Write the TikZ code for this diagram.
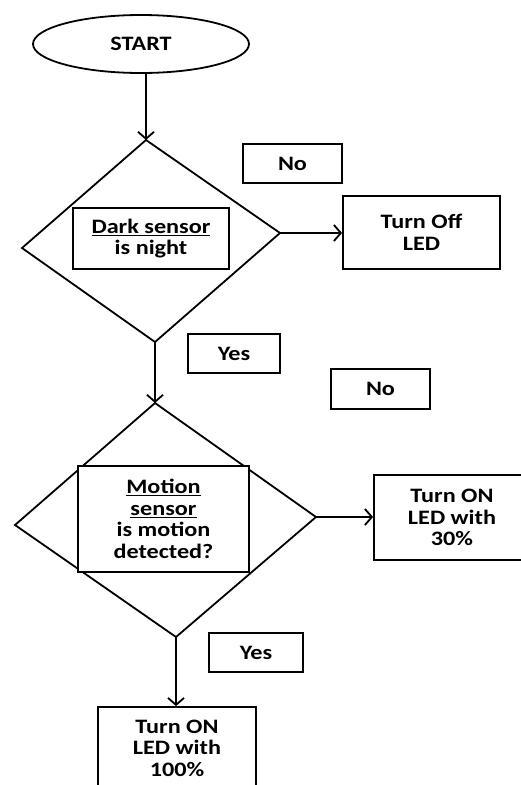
\documentclass[tikz,border=0pt]{standalone}
\usepackage{fontspec}
\setmainfont{Carlito}[FakeStretch=1.18]
\usetikzlibrary{shapes.geometric,arrows.meta}
\begin{document}
\begin{tikzpicture}[x=1pt,y=-1pt,
  every node/.style={font=\fontsize{20.5}{21.5}\selectfont\bfseries, align=center, inner sep=0pt},
  line/.style={line width=1.8pt},
  box/.style={draw, line width=1.8pt, rectangle},
  arr/.style={line width=1.8pt, -{Straight Barb[length=7pt,width=16pt,line width=1.8pt]}}]
\clip (0,0) rectangle (521,785);
\fill[white] (0,0) rectangle (521,785);
% start
\node[draw, line width=1.8pt, ellipse, minimum width=216pt, minimum height=58pt] (start) at (141,44) {START};
% diamond 1
\coordinate (d1t) at (146,140);
\coordinate (d1r) at (280,233);
\coordinate (d1b) at (155,342);
\coordinate (d1l) at (22,248);
\draw[line, line join=miter] (d1t) -- (d1r) -- (d1b) -- (d1l) -- cycle;
\node[box, minimum width=156pt, minimum height=61pt, fill=white] (dark) at (151,238.5) {\underline{Dark sensor}\\is night};
% no 1
\node[box, minimum width=99pt, minimum height=39pt] (no1) at (292.5,163.5) {No};
% turn off
\node[box, minimum width=157pt, minimum height=73pt] (off) at (421.5,232.5) {\raisebox{0pt}[0pt][8pt]{}Turn Off\\LED};
% yes 1
\node[box, minimum width=92pt, minimum height=39pt] (yes1) at (234,353.5) {Yes};
% no 2
\node[box, minimum width=99pt, minimum height=40pt] (no2) at (380.5,389) {No};
% diamond 2
\coordinate (d2t) at (155,403);
\coordinate (d2r) at (316,517);
\coordinate (d2b) at (176,637);
\coordinate (d2l) at (15,525);
\draw[line, line join=miter] (d2t) -- (d2r) -- (d2b) -- (d2l) -- cycle;
\node[box, minimum width=171pt, minimum height=106pt, fill=white] (motion) at (163.5,519) {\underline{Motion}\\\underline{sensor}\\is motion\\detected?};
% turn on 30
\node[box, minimum width=156pt, minimum height=85pt] (on30) at (452,517.5) {Turn ON\\LED with\\30\%};
% yes 2
\node[box, minimum width=94pt, minimum height=39pt] (yes2) at (256,652.5) {Yes};
% turn on 100
\node[box, minimum width=158pt, minimum height=82pt] (on100) at (177,748) {Turn ON\\LED with\\100\%};
% connectors
\draw[arr] (d1t |- start.south) -- (d1t);
\draw[arr] (d1r) -- (off.west |- d1r);
\draw[arr] (d1b) -- (d2t);
\draw[arr] (d2r) -- (on30.west |- d2r);
\draw[arr] (d2b) -- (on100.north -| d2b);
\end{tikzpicture}
\end{document}
